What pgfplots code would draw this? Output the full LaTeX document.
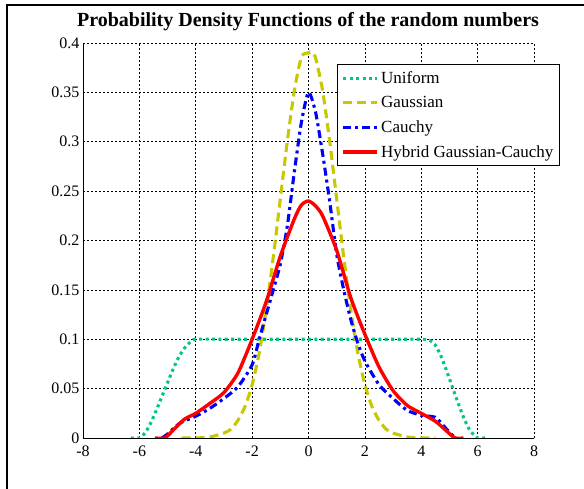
\documentclass[border=0pt]{standalone}
\usepackage{fontspec}
\setmainfont{Liberation Serif}
\usepackage{pgfplots}
\pgfplotsset{compat=1.18}
\definecolor{uni}{RGB}{0,200,130}
\definecolor{gau}{RGB}{200,200,0}

\begin{document}
\begin{tikzpicture}[x=1pt,y=1pt]
\begin{axis}[
    name=ax,
    width=451pt, height=395pt, scale only axis,
    xmin=-8, xmax=8, ymin=0, ymax=0.4,
    axis x line*=bottom, axis y line*=left,
    axis line style={-, line width=0.8pt},
    xtick={-8,-6,-4,-2,0,2,4,6,8},
    xticklabels={-8,-6,-4,-2,0,2,4,6,8},
    ytick={0,0.05,0.1,0.15,0.2,0.25,0.3,0.35,0.4},
    yticklabels={0,0.05,0.1,0.15,0.2,0.25,0.3,0.35,0.4},
    tick style={draw=none},
    grid=major,
    major grid style={black, line width=0.6pt, dash pattern=on 2pt off 2pt},
    ticklabel style={font=\fontsize{16}{16}\selectfont},
    xticklabel style={yshift=-4pt},
    yticklabel style={xshift=0pt},
    legend style={at={(0.564,0.947)}, anchor=north west,
        font=\fontsize{17}{17}\selectfont, draw=black, line width=0.8pt,
        row sep=7.5pt, inner xsep=4pt, inner ysep=5pt,
        cells={anchor=west}},
    legend image code/.code={\draw[#1] (0pt,0pt) -- (34pt,0pt);},
    every axis plot/.append style={line width=3.1pt, smooth, tension=0.4},
]
% Uniform
\addplot[uni, dash pattern=on 3pt off 3.4pt] coordinates {
(-6.3,0) (-6,0) (-5.8,0.005) (-5.6,0.015) (-5.4,0.028) (-5.2,0.042) (-5,0.056)
(-4.8,0.07) (-4.6,0.082) (-4.4,0.091) (-4.2,0.097) (-4,0.1) (-3,0.1) (-2,0.1)
(-1,0.1) (0,0.1) (1,0.1) (2,0.1) (3,0.1) (4,0.1) (4.3,0.099) (4.5,0.094)
(4.7,0.083) (4.9,0.068) (5.1,0.052) (5.3,0.036) (5.5,0.021) (5.7,0.009)
(5.9,0.002) (6,0) (6.3,0)
};
\addlegendentry{Uniform}
% Gaussian
\addplot[gau, dash pattern=on 9pt off 5pt] coordinates {
(-4.5,0) (-4,0) (-3.5,0.001) (-3,0.005) (-2.75,0.009) (-2.5,0.018) (-2.25,0.032)
(-2,0.054) (-1.75,0.086) (-1.5,0.13) (-1.25,0.183) (-1,0.242) (-0.75,0.301)
(-0.5,0.352) (-0.25,0.386) (0,0.39) (0.1,0.391) (0.25,0.385) (0.5,0.352)
(0.75,0.301) (1,0.242) (1.25,0.183) (1.5,0.13) (1.75,0.086) (2,0.054)
(2.25,0.032) (2.5,0.018) (2.75,0.009) (3,0.005) (3.5,0.001) (4,0) (4.5,0)
};
\addlegendentry{Gaussian}
% Cauchy
\addplot[blue, dash pattern=on 8pt off 4pt on 3pt off 4pt] coordinates {
(-5.2,0) (-5,0.004) (-4.7,0.012) (-4.5,0.016) (-4,0.022) (-3.5,0.03) (-3,0.04)
(-2.5,0.052) (-2,0.074) (-1.75,0.1) (-1.5,0.125) (-1.25,0.15) (-1,0.176)
(-0.75,0.215) (-0.5,0.27) (-0.25,0.32) (0,0.35) (0.25,0.33) (0.5,0.288)
(0.75,0.24) (1,0.186) (1.25,0.15) (1.5,0.12) (1.75,0.096) (2,0.078) (2.5,0.054)
(3,0.04) (3.5,0.028) (4,0.023) (4.5,0.021) (4.8,0.012) (5.2,0)
};
\addlegendentry{Cauchy}
% Hybrid
\addplot[red, line width=3.4pt] coordinates {
(-5.45,0) (-5.1,0) (-4.8,0.008) (-4.4,0.019) (-4,0.025) (-3.5,0.035) (-3,0.046)
(-2.5,0.066) (-2,0.1) (-1.5,0.138) (-1,0.184) (-0.5,0.222) (-0.25,0.236)
(0,0.24) (0.25,0.235) (0.5,0.225) (1,0.19) (1.5,0.142) (2,0.105) (2.5,0.072)
(3,0.048) (3.5,0.033) (4,0.025) (4.5,0.017) (4.9,0.007) (5.2,0) (5.5,0)
};
\addlegendentry{Hybrid Gaussian-Cauchy}
\end{axis}
% page frame and title, in reference pixel coordinates (origin top left)
\begin{scope}[shift={(ax.south west)}, shift={(-83,438)}]
\node[font=\fontsize{20}{20}\selectfont\bfseries] at (308,-22) {Probability Density Functions of the random numbers};
\draw[line width=1.6pt] (7,-495) -- (7,-5) -- (590,-5);
\pgfresetboundingbox
\path[use as bounding box] (0,0) rectangle (584,-489);
\end{scope}
\end{tikzpicture}
\end{document}
